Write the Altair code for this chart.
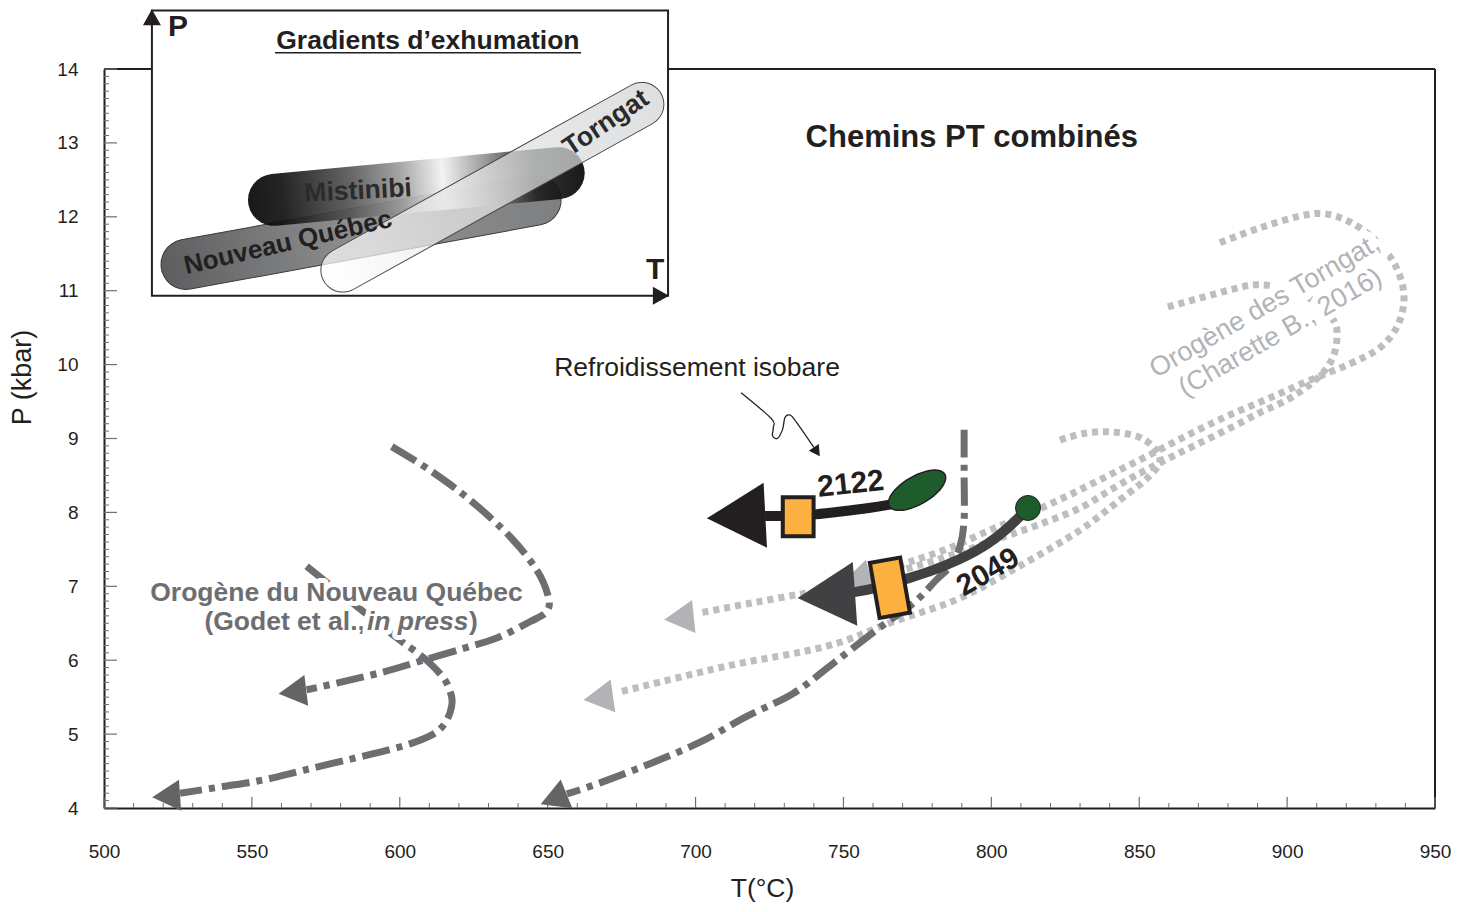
import altair as alt
import numpy as np
import pandas as pd

# ---------------- P–T data (T in °C, P in kbar) ----------------
# Nouveau-Québec orogen (dash-dot paths)
nq_upper_T = [597.3, 610.2, 623.7, 637.3, 646.3, 650.2, 649.7, 644.0, 632.8, 621.5, 608.0, 594.4, 578.7, 568.5]
nq_upper_P = [8.89, 8.57, 8.17, 7.67, 7.22, 6.86, 6.66, 6.52, 6.30, 6.16, 6.00, 5.84, 5.69, 5.60]
nq_lower_T = [568.5, 583.2, 598.4, 604.6, 610.2, 615.3, 617.5, 617.5, 615.9, 612.5, 605.7, 596.7, 582.1, 567.4, 553.9, 540.3, 525.7]
nq_lower_P = [7.27, 6.80, 6.32, 6.14, 5.96, 5.73, 5.51, 5.37, 5.19, 5.03, 4.90, 4.79, 4.65, 4.51, 4.38, 4.29, 4.20]
nq_east_T = [790.8, 790.8, 790.8, 789.4, 786.0, 781.5, 773.6, 761.2, 746.6, 733.0, 717.3, 701.5, 684.6, 667.7, 656.5]
nq_east_P = [9.12, 8.51, 7.90, 7.54, 7.27, 7.09, 6.77, 6.41, 5.96, 5.55, 5.24, 4.89, 4.60, 4.34, 4.19]
nq_head_T = [563.7, 521.0, 652.0]
nq_head_P = [5.57, 4.16, 4.12]

# Torngat orogen (dotted paths)
tg_outer_T = [877.3, 890.8, 904.3, 912.8, 921.2, 929.7, 936.5, 939.5, 937.5, 931.4, 921.2, 907.7, 894.2, 880.7,
              867.1, 853.6, 840.1, 826.6, 813.1, 799.5, 786.0, 772.5, 760.0]
tg_outer_P = [11.65, 11.85, 12.01, 12.04, 11.93, 11.69, 11.35, 10.94, 10.54, 10.23, 10.01, 9.79, 9.55, 9.32,
              9.06, 8.78, 8.51, 8.24, 7.99, 7.76, 7.52, 7.33, 7.14]
tg_middle_T = [859.7, 870.5, 880.7, 889.8, 901.0, 911.1, 916.2, 916.8, 915.5, 912.1, 906.7, 899.9, 890.8, 880.7,
               870.5, 860.4, 850.2, 840.1, 830.0, 816.4, 802.9, 789.4, 775.9, 765.7, 752.2, 736.3, 718.4, 701.5]
tg_middle_P = [10.78, 10.90, 11.01, 11.08, 11.01, 10.81, 10.56, 10.33, 10.10, 9.89, 9.70, 9.52, 9.35, 9.14,
               8.94, 8.74, 8.53, 8.30, 8.06, 7.84, 7.65, 7.46, 7.29, 7.17, 7.00, 6.90, 6.77, 6.64]
tg_inner_T = [823.2, 831.6, 840.1, 849.2, 854.6, 857.0, 852.9, 843.5, 830.0, 812.0, 789.4, 766.7, 744.4, 710.6, 674.4]
tg_inner_P = [8.98, 9.07, 9.09, 9.03, 8.89, 8.70, 8.47, 8.17, 7.76, 7.33, 6.84, 6.52, 6.19, 5.92, 5.57]
tg_head_T = [754.2, 694.4, 667.1]
tg_head_P = [7.09, 6.57, 5.49]

# Samples of this study
sample_names = ["2122", "2049"]
p2122_T = [766.4, 759.0, 748.8, 740.4, 731.9, 723.5]
p2122_P = [8.11, 8.06, 8.01, 7.97, 7.95, 7.95]
p2049_T = [812.5, 807.4, 799.5, 789.4, 778.1, 770.2, 761.2, 753.3]
p2049_P = [8.06, 7.85, 7.58, 7.36, 7.18, 7.09, 6.97, 6.92]
peak_T = [774.9, 812.4]
peak_P = [8.30, 8.06]
retro_T = [734.7, 765.7]
retro_P = [7.94, 6.98]
head_T = [713.7, 744.2]
head_P = [7.94, 6.87]
sample_label_T = [752.5, 798.9]
sample_label_P = [8.38, 7.19]

# "Refroidissement isobare" pointer
pointer_T = [715.4, 725.6, 726.3, 726.0, 727.6, 729.4, 730.2, 731.6, 733.4, 740.0]
pointer_P = [9.62, 9.27, 9.15, 9.04, 9.00, 9.12, 9.28, 9.32, 9.26, 8.88]
pointer_head = (741.0, 8.82)

# Inset: exhumation gradients sketch (drawn in the same T–P frame)
inset_T = [516.2, 690.7]
inset_P = [10.93, 14.79]
band_names = ["Nouveau Québec", "Mistinibi", "Torngat"]
band_T = [586.9, 605.6, 631.3]
band_P = [11.79, 12.41, 12.40]
band_label_T = [562.2, 585.9, 669.7]
band_label_P = [11.65, 12.35, 13.27]

# Axis ticks
t_labels = [500, 550, 600, 650, 700, 750, 800, 850, 900, 950]
p_labels = [4, 5, 6, 7, 8, 9, 10, 11, 12, 13, 14]

# ---------------- chart setup ----------------
W, H = 1331, 739
FONT = "Liberation Sans"
INK = "#231f20"
NQ_GREY = "#6d6e71"
TG_GREY = "#bcbec0"

xs = alt.Scale(domain=[500, 950], nice=False, zero=False)
ys = alt.Scale(domain=[4, 14], nice=False, zero=False)
x_axis = alt.Axis(values=t_labels, format="d", ticks=False, tickSize=0, labelPadding=34,
                  labelFont=FONT, labelFontSize=19, labelColor=INK, labelFlush=False,
                  labelOverlap=False, domainColor=INK, domainWidth=2, grid=False,
                  title="T(°C)", titleFont=FONT, titleFontSize=26.5, titleFontWeight="normal",
                  titleColor=INK, titleX=658, titleY=80, titleAlign="center",
                  titleBaseline="middle")
y_axis = alt.Axis(values=p_labels, format="d", ticks=False, tickSize=0, labelPadding=26,
                  labelFont=FONT, labelFontSize=19, labelColor=INK, labelFlush=False,
                  labelOverlap=False, domainColor=INK, domainWidth=2, grid=False,
                  title="P (kbar)", titleFont=FONT, titleFontSize=27, titleFontWeight="normal",
                  titleColor=INK, titleX=-82, titleY=308, titleAngle=270, titleAlign="center",
                  titleBaseline="middle")
X = alt.X("T:Q", scale=xs, axis=x_axis)
Y = alt.Y("P:Q", scale=ys, axis=y_axis)


def path_frame(named):
    rows = []
    for name, (ts, ps) in named.items():
        for i, (t, p) in enumerate(zip(ts, ps)):
            rows.append({"path": name, "i": i, "T": t, "P": p})
    return pd.DataFrame(rows)


def lines(named, **mark):
    return alt.Chart(path_frame(named)).mark_line(**mark).encode(
        x=X, y=Y, detail="path:N", order="i:Q")


def poly(points):
    return "M" + "L".join(f"{x:.4f},{y:.4f}" for x, y in points) + "Z"


def capsule(length, width, n=16):
    r = width / length
    pts = [(1 - r + r * np.cos(a), r * np.sin(a)) for a in np.linspace(-np.pi / 2, np.pi / 2, n)]
    pts += [(-1 + r + r * np.cos(a), r * np.sin(a)) for a in np.linspace(np.pi / 2, 3 * np.pi / 2, n)]
    return poly(pts)


def ellipse(ratio, n=48):
    return poly([(np.cos(a), ratio * np.sin(a)) for a in np.linspace(0, 2 * np.pi, n, endpoint=False)])


def box(half_w):
    return poly([(-half_w, -1), (half_w, -1), (half_w, 1), (-half_w, 1)])


ARROW = "M-0.9,0L0.9,-1L0.9,1Z"


def glyph(t, p, shape, px, angle=0, **style):
    d = pd.DataFrame({"T": [t], "P": [p]})
    return alt.Chart(d).mark_point(shape=shape, size=px * px, angle=angle, opacity=1,
                                   filled=True, **style).encode(x=X, y=Y)


def label(t, p, text, size, color=INK, weight="bold", angle=0, align="center",
          style="normal", halo=0):
    d = pd.DataFrame({"T": [t], "P": [p], "s": [text]})
    base = alt.Chart(d).encode(x=X, y=Y, text="s:N")
    kw = dict(font=FONT, fontSize=size, fontWeight=weight, angle=angle, align=align,
              baseline="middle", fontStyle=style)
    out = []
    if halo:
        out.append(base.mark_text(color="white", stroke="white", strokeWidth=halo,
                                  strokeJoin="round", **kw))
    out.append(base.mark_text(color=color, **kw))
    return out


def grad(stops):
    return alt.LinearGradient(gradient="linear", x1=0, x2=1, y1=0, y2=0,
                              stops=[alt.GradientStop(offset=o, color=c) for o, c in stops])


layers = []

# ---- frame (top and right edges; left and bottom come from the axes) ----
frame_top = pd.DataFrame({"T": [500], "T_end": [950], "P": [14]})
layers.append(alt.Chart(frame_top).mark_rule(color=INK, strokeWidth=2).encode(
    x=X, x2="T_end:Q", y=Y))
frame_right = pd.DataFrame({"T": [950], "P": [4], "P_end": [14]})
layers.append(alt.Chart(frame_right).mark_rule(color=INK, strokeWidth=2).encode(
    x=X, y=Y, y2="P_end:Q"))

# ---- Torngat paths ----
layers.append(lines({"outer": (tg_outer_T, tg_outer_P),
                     "middle": (tg_middle_T, tg_middle_P),
                     "inner": (tg_inner_T, tg_inner_P)},
                    color=TG_GREY, strokeWidth=7, strokeDash=[6, 5], interpolate="cardinal"))
for t, p, a in zip(tg_head_T, tg_head_P, [345, 354, 352]):
    layers.append(glyph(t, p, ARROW, 33, a, fill="#b1b3b6"))

# ---- Nouveau-Québec paths ----
layers.append(lines({"upper": (nq_upper_T, nq_upper_P),
                     "lower": (nq_lower_T, nq_lower_P),
                     "east": (nq_east_T, nq_east_P)},
                    color=NQ_GREY, strokeWidth=7, strokeDash=[28, 7, 6, 7], interpolate="cardinal"))
for t, p, a in zip(nq_head_T, nq_head_P, [353, 356, 338]):
    layers.append(glyph(t, p, ARROW, 31, a, fill="#636466"))

# ---- orogen labels ----
layers += label(578.6, 6.91, "Orogène du Nouveau Québec", 26.5, color=NQ_GREY, halo=10)
layers += label(588.2, 6.52, "(Godet et al., ", 26.5, color=NQ_GREY, align="right", halo=10)
layers += label(588.9, 6.52, "in press", 26.5, color=NQ_GREY, align="left", style="italic", halo=10)
layers += label(623.4, 6.52, ")", 26.5, color=NQ_GREY, align="left", halo=10)
layers += label(892.5, 10.79, "Orogène des Torngat,", 27, color="#b1b3b6", weight="normal",
                angle=330, halo=16)
layers += label(897.7, 10.43, "(Charette B., 2016)", 27, color="#b1b3b6", weight="normal",
                angle=330, halo=12)

# ---- samples 2049 and 2122 ----
layers.append(lines({"2049": (p2049_T, p2049_P)}, color="#414042", strokeWidth=10, interpolate="basis"))
layers.append(lines({"2122": (p2122_T, p2122_P)}, color=INK, strokeWidth=10, interpolate="basis"))
layers.append(glyph(head_T[0], head_P[0], ARROW, 65, 357, fill=INK))
layers.append(glyph(head_T[1], head_P[1], ARROW, 64, 356, fill="#414042"))
layers.append(glyph(retro_T[0], retro_P[0], box(0.79), 39, 0, fill="#fbb040", stroke=INK, strokeWidth=4))
layers.append(glyph(retro_T[1], retro_P[1], box(0.55), 56, 350, fill="#fbb040", stroke=INK, strokeWidth=4))
layers.append(glyph(peak_T[0], peak_P[0], ellipse(0.44), 64, 330, fill="#1f5c2c", stroke=INK, strokeWidth=1.5))
layers.append(glyph(peak_T[1], peak_P[1], "circle", 25, 0, fill="#1f5c2c", stroke=INK, strokeWidth=1))
layers += label(sample_label_T[0], sample_label_P[0], sample_names[0], 30, angle=354)
layers += label(sample_label_T[1], sample_label_P[1], sample_names[1], 30, angle=330)

# ---- titles ----
layers += label(793.4, 13.07, "Chemins PT combinés", 31)
layers += label(700.5, 9.95, "Refroidissement isobare", 26.5, weight="normal")
layers.append(lines({"pointer": (pointer_T, pointer_P)}, color=INK, strokeWidth=1.3, interpolate="cardinal"))
layers.append(glyph(pointer_head[0], pointer_head[1], ARROW, 12, 236, fill=INK))

# ---- inset ----
inset_df = pd.DataFrame({"T": [inset_T[0]], "T_end": [inset_T[1]], "P": [inset_P[0]], "P_end": [inset_P[1]]})
layers.append(alt.Chart(inset_df).mark_rect(fill="white", stroke=INK, strokeWidth=2).encode(
    x=X, x2="T_end:Q", y=Y, y2="P_end:Q"))
layers.append(glyph(inset_T[0], 14.70, ARROW, 18, 90, fill=INK))
layers.append(glyph(688.3, inset_P[0], ARROW, 18, 180, fill=INK))
layers += label(525.0, 14.57, "P", 30)
layers += label(686.3, 11.28, "T", 30)
layers += label(609.5, 14.38, "Gradients d’exhumation", 26.5)
underline = pd.DataFrame({"T": [557.8], "T_end": [661.3], "P": [14.22]})
layers.append(alt.Chart(underline).mark_rule(color=INK, strokeWidth=1.5).encode(x=X, x2="T_end:Q", y=Y))

layers.append(glyph(band_T[0], band_P[0], capsule(406, 50), 406, 349.6,
                    fill=grad([(0, "#5d5e60"), (0.5, "#909193"), (1, "#7e7f81")]),
                    stroke="#3a3a3a", strokeWidth=1))
layers.append(glyph(band_T[1], band_P[1], capsule(338, 52), 338, 354.6,
                    fill=grad([(0, "#050505"), (0.1, "#111111"), (0.3, "#555555"), (0.45, "#9a9a9a"),
                               (0.58, "#f2f2f2"), (0.72, "#8a8a8a"), (0.85, "#222222"), (1, "#050505")]),
                    fillOpacity=0.92))
layers.append(glyph(band_T[2], band_P[2], capsule(386, 44), 386, 331,
                    fill=grad([(0, "#ffffff"), (0.4, "#e6e7e8"), (1, "#d1d3d4")]),
                    fillOpacity=0.72, stroke="#4a4a4a", strokeWidth=1))
layers += label(band_label_T[0], band_label_P[0], band_names[0], 26, angle=347)
layers += label(band_label_T[1], band_label_P[1], band_names[1], 26.5, color="#2b2b2b", angle=357)
layers += label(band_label_T[2], band_label_P[2], band_names[2], 26.5, color="#2b2b2b", angle=326)

# ---- inward ticks ----
p_all = np.round(np.arange(4, 14.001, 0.1), 1)
p_minor = pd.DataFrame({"P": [v for v in p_all if abs(v - round(v)) > 1e-6]})
p_major = pd.DataFrame({"P": p_labels})
t_minor = pd.DataFrame({"T": [v for v in range(500, 951, 10) if v % 50]})
t_major = pd.DataFrame({"T": t_labels})
layers.append(alt.Chart(p_minor).mark_rule(color="#6d6e71", strokeWidth=1).encode(
    y=Y, x=alt.value(0), x2=alt.value(5)))
layers.append(alt.Chart(p_major).mark_rule(color="#6d6e71", strokeWidth=1.2).encode(
    y=Y, x=alt.value(0), x2=alt.value(13)))
layers.append(alt.Chart(t_minor).mark_rule(color="#6d6e71", strokeWidth=1).encode(
    x=X, y=alt.value(H), y2=alt.value(H - 5)))
layers.append(alt.Chart(t_major).mark_rule(color="#6d6e71", strokeWidth=1.2).encode(
    x=X, y=alt.value(H), y2=alt.value(H - 11)))

chart = alt.layer(*layers).properties(
    width=W, height=H,
    padding={"left": 104, "top": 69, "right": 34, "bottom": 104},
    autosize=alt.AutoSizeParams(type="none"),
    background="white",
).configure_view(stroke=None)

chart.save("out.html", embed_options={"renderer": "svg", "actions": False})
